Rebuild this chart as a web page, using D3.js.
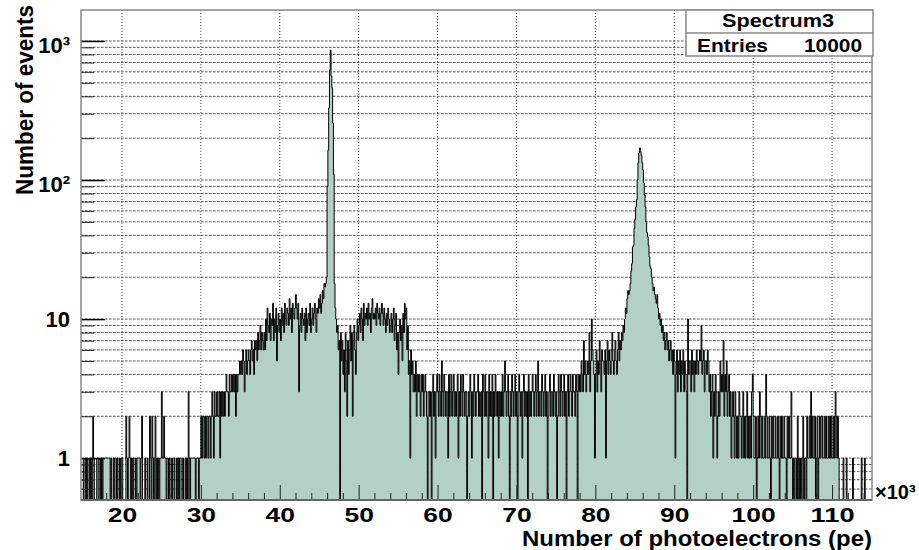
<!DOCTYPE html>
<html>
<head>
<meta charset="utf-8">
<script src="https://cdn.jsdelivr.net/npm/d3@7"></script>
<style>
  body { margin: 0; background: #fff; }
  text { font-family: "Liberation Sans", Arial, sans-serif; font-weight: bold; fill: #000; }
</style>
</head>
<body>
<svg id="chart" width="919" height="550"></svg>
<script>
// bin contents, bins 0.1 wide (x in 10^3 pe), one array per 10 units
var counts15 = [
  0,1,0,0,1,0,1,0,0,1, 0,1,0,2,1,0,0,0,1,1, 0,0,1,0,1,0,1,1,1,1, 1,1,1,1,1,0,1,0,0,1, 0,1,1,0,1,0,0,1,0,1,
  1,0,0,0,0,2,1,0,1,2, 1,0,1,0,1,0,0,1,0,1, 1,1,1,0,1,2,0,0,0,1, 0,0,1,0,0,2,1,0,2,1, 0,1,2,0,1,0,1,0,1,1];
var counts25 = [
  3,1,1,2,1,1,0,1,1,0, 1,0,0,1,0,0,1,0,0,1, 0,1,0,1,1,0,0,1,0,0, 1,0,1,0,3,1,0,1,1,1, 1,1,1,0,1,1,1,0,1,1,
  2,1,2,2,1,2,1,2,2,1, 2,2,1,2,3,2,1,3,2,2, 3,2,2,3,1,3,2,3,2,3, 2,3,4,3,3,2,4,3,3,4, 3,4,3,4,2,4,3,4,4,5];
var counts35 = [
  4,5,4,6,5,3,5,6,4,5, 6,5,4,6,7,5,6,4,7,6, 7,5,8,6,7,9,6,8,7,6, 8,6,10,7,12,9,8,11,7,10, 9,13,7,10,8,12,5,9,11,8,
  10,7,12,9,11,8,13,10,9,12, 11,9,14,10,12,8,13,11,10,12, 15,12,10,13,3,9,11,8,12,10, 9,11,7,12,8,10,11,9,13,8, 10,12,9,11,13,10,8,12,11,14];
var counts45 = [
  12,15,11,13,16,14,18,17,18,20, 90,164,330,620,860,560,459,257,110,18, 12,10,8,9,6,7,0,8,5,7, 4,6,3,8,5,2,7,4,6,9, 5,8,2,7,9,6,4,8,10,7,
  9,11,8,12,10,7,13,9,11,10, 12,9,13,10,11,8,12,14,10,11, 10,12,9,13,11,10,12,9,11,13, 11,9,12,10,8,11,9,12,10,8, 9,11,8,10,12,7,9,11,6,8];
var counts55 = [
  4,8,10,7,9,5,11,8,13,10, 12,6,9,4,5,1,6,4,5,3, 4,3,5,2,4,3,4,3,2,4, 3,4,2,3,4,3,2,0,3,3, 2,3,0,3,4,2,3,1,3,4,
  3,2,4,3,2,5,3,2,4,3, 2,3,3,1,4,2,3,4,2,3, 4,2,3,2,3,4,1,3,2,4, 3,2,4,3,2,3,3,0,2,3, 2,4,3,1,3,2,4,3,2,3];
var counts65 = [
  3,4,2,3,2,3,0,4,3,2, 4,2,3,3,1,4,2,3,2,4, 0,3,2,4,3,2,3,1,3,2, 3,2,4,2,3,5,3,2,3,4, 2,0,3,2,4,3,2,3,4,2,
  3,0,2,4,3,2,3,1,3,4, 2,3,2,3,0,4,2,3,2,3, 4,3,2,3,4,2,3,5,2,3, 3,2,4,3,2,3,4,2,3,0, 2,3,4,2,3,3,2,4,3,2];
var counts75 = [
  3,0,2,4,3,2,4,3,2,3, 4,2,3,0,3,4,2,3,4,3, 2,4,3,3,2,4,3,0,4,3, 4,3,5,4,3,7,4,5,3,4, 5,4,8,3,5,10,6,5,4,1,
  4,6,3,5,4,7,5,3,6,5, 5,4,6,1,5,7,4,6,5,4, 6,8,5,4,6,7,5,4,6,8, 5,7,6,8,7,9,8,10,12,11, 14,16,15,16,18,22,25,33,34,45];
var counts85 = [
  52,64,72,100,133,157,170,160,150,133, 118,95,78,64,50,42,39,34,28,24, 23,20,18,16,17,15,14,13,15,12, 10,11,9,10,8,9,7,8,6,7, 8,6,7,5,6,7,5,6,4,6,
  5,1,4,6,3,5,4,6,3,5, 4,6,3,5,4,3,0,10,4,5, 5,3,6,4,5,3,5,4,6,5, 4,5,6,5,9,4,5,6,3,5, 5,4,6,5,3,4,2,3,4,1];
var counts95 = [
  3,2,4,3,1,2,3,2,5,3, 4,3,7,2,4,3,5,2,3,4, 2,3,1,2,3,2,1,3,2,1, 2,1,3,2,2,1,2,3,1,2, 1,2,3,1,2,1,2,1,3,4,
  2,1,1,2,0,1,2,1,3,2, 1,2,1,1,2,1,4,2,1,1, 2,1,0,2,1,2,1,1,2,1, 1,2,1,0,2,1,2,1,1,2, 1,1,0,2,1,2,1,1,3,1];
var counts105 = [
  0,1,0,1,1,0,2,0,1,0, 1,0,1,2,0,1,1,0,2,1, 1,2,1,3,1,2,1,1,2,0, 1,2,0,1,2,1,2,2,1,1, 2,1,2,1,1,2,1,2,1,2,
  1,1,2,1,3,2,1,2,1,0, 0,0,0,0,1,0,0,0,1,0, 0,0,0,0,0,0,1,0,0,0, 0,0,0,0,0,0,0,1,0,0, 0,1,0,0,0,0,0,0,0,0];

var binStart = 15;
var binWidth = 0.1;
var xTicks = [20, 30, 40, 50, 60, 70, 80, 90, 100, 110];
var xMinorTicks = [16, 18, 22, 24, 26, 28, 32, 34, 36, 38, 42, 44, 46, 48, 52, 54, 56, 58, 62, 64, 66, 68,
                   72, 74, 76, 78, 82, 84, 86, 88, 92, 94, 96, 98, 102, 104, 106, 108, 112, 114];
var yTicks = [1, 10, 100, 1000];
var yTickLabels = ["1", "10", "10\u00b2", "10\u00b3"];

var svg = d3.select("#chart"),
  margin = { top: 10, right: 47, bottom: 50, left: 81 },
  width = +svg.attr("width") - margin.left - margin.right,
  height = +svg.attr("height") - margin.top - margin.bottom;

var yMin = 0.5, yMax = 1670;
var x = d3.scaleLinear().domain([15, 115]).range([margin.left + 1.5, margin.left + width - 0.5]);
var y = d3.scaleLog().domain([yMin, yMax]).range([margin.top + height, margin.top]);

svg.append("rect").attr("width", 919).attr("height", 550).attr("fill", "#fff");

// grid
var gridY = y.ticks().filter(function(v) { return v > yMin; });
svg.append("g").selectAll("line")
  .data(gridY)
  .enter()
  .append("line")
  .attr("x1", margin.left).attr("x2", margin.left + width)
  .attr("y1", function(v) { return y(v); }).attr("y2", function(v) { return y(v); })
  .attr("stroke", "#555").attr("stroke-width", 1).attr("stroke-dasharray", "2.5,1.5");
svg.append("g").selectAll("line")
  .data(xTicks)
  .enter()
  .append("line")
  .attr("x1", function(v) { return x(v); }).attr("x2", function(v) { return x(v); })
  .attr("y1", margin.top).attr("y2", margin.top + height)
  .attr("stroke", "#444").attr("stroke-width", 1).attr("stroke-dasharray", "1,2");

// histogram
var counts = [].concat(counts15, counts25, counts35, counts45, counts55,
                       counts65, counts75, counts85, counts95, counts105);
var pts = [[binStart, 0]];
counts.forEach(function(c, i) {
  pts.push([binStart + i * binWidth, c]);
  pts.push([binStart + (i + 1) * binWidth, c]);
});
pts.push([binStart + counts.length * binWidth, 0]);
function yv(n) { return n > 0 ? y(n) : y(yMin); }

svg.append("clipPath").attr("id", "plotclip")
  .append("rect").attr("x", margin.left).attr("y", margin.top)
  .attr("width", width).attr("height", height);

var hist = svg.append("g").attr("clip-path", "url(#plotclip)");
hist.append("path")
  .datum(pts)
  .attr("fill", "#b2d0c6")
  .attr("d", d3.area().x(function(d) { return x(d[0]); }).y0(y(yMin)).y1(function(d) { return yv(d[1]); }));
hist.append("path")
  .datum(pts)
  .attr("fill", "none")
  .attr("stroke", "#000")
  .attr("stroke-width", 1)
  .attr("d", d3.line().x(function(d) { return x(d[0]); }).y(function(d) { return yv(d[1]); }));

// y axis ticks (inward)
svg.append("g")
  .attr("transform", "translate(" + margin.left + ",0)")
  .call(d3.axisRight(y).tickValues(gridY).tickSize(13).tickFormat(""))
  .call(function(g) { g.select(".domain").remove(); g.selectAll("line").attr("stroke", "#222"); });
svg.append("g")
  .attr("transform", "translate(" + margin.left + ",0)")
  .call(d3.axisRight(y).tickValues(yTicks).tickSize(24).tickFormat(""))
  .call(function(g) { g.select(".domain").remove(); g.selectAll("line").attr("stroke", "#000").attr("stroke-width", 1.5); });

// y labels
svg.append("g").selectAll("text")
  .data(yTicks)
  .enter()
  .append("text")
  .attr("x", 70)
  .attr("y", function(v, i) { return y(v) + (i > 1 ? 12 : 8); })
  .attr("text-anchor", "end")
  .attr("font-size", 22)
  .text(function(v, i) { return yTickLabels[i]; });

// x axis ticks (inward)
svg.append("g")
  .attr("transform", "translate(0," + (margin.top + height) + ")")
  .call(d3.axisBottom(x).tickValues(xMinorTicks).tickSize(-7).tickFormat(""))
  .call(function(g) { g.select(".domain").remove(); g.selectAll("line").attr("stroke", "#222"); });
var xAxis = svg.append("g")
  .attr("transform", "translate(0," + (margin.top + height) + ")")
  .call(d3.axisBottom(x).tickValues(xTicks).tickSize(-15).tickPadding(8))
  .attr("font-family", null).attr("font-size", null);
xAxis.select(".domain").remove();
xAxis.selectAll("line").attr("stroke", "#222");
xAxis.selectAll("text")
  .attr("font-size", 19.5)
  .attr("textLength", function(v) { return String(v).length * 14.7; })
  .attr("lengthAdjust", "spacingAndGlyphs");

// frame
svg.append("rect")
  .attr("x", margin.left).attr("y", margin.top)
  .attr("width", width).attr("height", height)
  .attr("fill", "none").attr("stroke", "#888").attr("stroke-width", 1.5);
svg.append("line")
  .attr("x1", margin.left).attr("x2", margin.left + width)
  .attr("y1", margin.top + height).attr("y2", margin.top + height)
  .attr("stroke", "#666").attr("stroke-width", 2);

// axis titles
svg.append("text")
  .attr("transform", "translate(33,5) rotate(-90)")
  .attr("text-anchor", "end")
  .attr("font-size", 23)
  .attr("textLength", 190).attr("lengthAdjust", "spacingAndGlyphs")
  .text("Number of events");
svg.append("text")
  .attr("x", 872).attr("y", 546)
  .attr("text-anchor", "end")
  .attr("font-size", 22)
  .attr("textLength", 350).attr("lengthAdjust", "spacingAndGlyphs")
  .text("Number of photoelectrons (pe)");
svg.append("text")
  .attr("x", 875).attr("y", 499)
  .attr("font-size", 20)
  .attr("font-weight", "normal")
  .text("\u00d710\u00b3");

// stats box
var stats = svg.append("g");
stats.append("rect")
  .attr("x", 686).attr("y", 10).attr("width", 187).attr("height", 46)
  .attr("fill", "#fff").attr("stroke", "#888").attr("stroke-width", 1.5);
stats.append("line")
  .attr("x1", 686).attr("x2", 873).attr("y1", 33).attr("y2", 33)
  .attr("stroke", "#888").attr("stroke-width", 1.5);
stats.append("text")
  .attr("x", 778).attr("y", 27).attr("text-anchor", "middle")
  .attr("font-size", 18.5)
  .attr("textLength", 112).attr("lengthAdjust", "spacingAndGlyphs")
  .text("Spectrum3");
stats.append("text")
  .attr("x", 697).attr("y", 51.5)
  .attr("font-size", 18.5)
  .attr("textLength", 71).attr("lengthAdjust", "spacingAndGlyphs")
  .text("Entries");
stats.append("text")
  .attr("x", 862).attr("y", 51.5).attr("text-anchor", "end")
  .attr("font-size", 18.5)
  .attr("textLength", 58).attr("lengthAdjust", "spacingAndGlyphs")
  .text("10000");
</script>
</body>
</html>
